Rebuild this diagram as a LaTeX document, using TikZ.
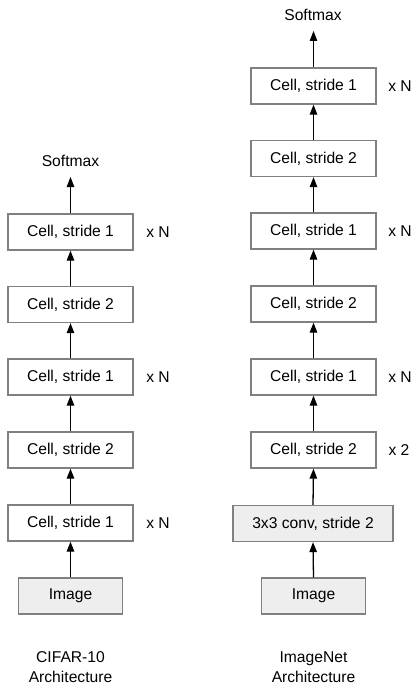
\documentclass[tikz,border=0pt]{standalone}
\usepackage{fontspec}
\setmainfont{Liberation Sans}
\usetikzlibrary{arrows.meta}
\definecolor{boxline}{HTML}{808080}
\definecolor{inputfill}{HTML}{EEEEEE}
\begin{document}
\begin{tikzpicture}[x=1bp,y=-1bp,
  font=\fontsize{15.7}{18.5}\selectfont,
  cellbox/.style={draw=boxline,line width=1.3bp,fill=white,minimum width=125bp,minimum height=36bp,inner sep=0pt},
  inbox/.style={cellbox,fill=inputfill,minimum width=160bp},
  imgbox/.style={cellbox,fill=inputfill,minimum width=104bp},
  flow/.style={draw=black,line width=1.3bp,-{Triangle[length=10bp,width=7.5bp]}},
  lbl/.style={inner sep=0pt},
  caption/.style={align=center,inner sep=0pt,font=\fontsize{15.7}{19.5}\selectfont}]
\useasboundingbox (0,0) rectangle (414,686);

% CIFAR-10 stack
\node[imgbox] (ci) at (70.5,596) {Image};
\node[cellbox] (c1) at (70.5,523) {Cell, stride 1};
\node[cellbox] (c2) at (70.5,450) {Cell, stride 2};
\node[cellbox] (c3) at (70.5,377) {Cell, stride 1};
\node[cellbox] (c4) at (70.5,304.5) {Cell, stride 2};
\node[cellbox] (c5) at (70.5,232) {Cell, stride 1};
\node[lbl] (cs) at (70.5,161) {Softmax};
\coordinate (csb) at (70.5,177);
\draw[flow] (ci.north) -- (c1.south);
\draw[flow] (c1.north) -- (c2.south);
\draw[flow] (c2.north) -- (c3.south);
\draw[flow] (c3.north) -- (c4.south);
\draw[flow] (c4.north) -- (c5.south);
\draw[flow] (c5.north) -- (csb);
\node[lbl] (cn1) at (158,523) {x N};
\node[lbl] (cn2) at (158,377) {x N};
\node[lbl] (cn3) at (158,232) {x N};
\node[caption] (ccap) at (70.5,667) {CIFAR-10\\Architecture};

% ImageNet stack
\node[imgbox] (ii) at (313.5,596) {Image};
\node[inbox] (i0) at (313,523.5) {3x3 conv, stride 2};
\node[cellbox] (i1) at (313.5,450) {Cell, stride 2};
\node[cellbox] (i2) at (313.5,377) {Cell, stride 1};
\node[cellbox] (i3) at (313.5,304) {Cell, stride 2};
\node[cellbox] (i4) at (313.5,231) {Cell, stride 1};
\node[cellbox] (i5) at (313.5,158.5) {Cell, stride 2};
\node[cellbox] (i6) at (313.5,86) {Cell, stride 1};
\node[lbl] (is) at (313,15) {Softmax};
\coordinate (isb) at (313.5,31);
\draw[flow] (ii.north) -- (i0.south);
\draw[flow] (i0.north) -- (i1.south);
\draw[flow] (i1.north) -- (i2.south);
\draw[flow] (i2.north) -- (i3.south);
\draw[flow] (i3.north) -- (i4.south);
\draw[flow] (i4.north) -- (i5.south);
\draw[flow] (i5.north) -- (i6.south);
\draw[flow] (i6.north) -- (isb);
\node[lbl] (in0) at (399,450) {x 2};
\node[lbl] (in1) at (400,377) {x N};
\node[lbl] (in2) at (400,231) {x N};
\node[lbl] (in3) at (400,86) {x N};
\node[caption] (icap) at (313.5,667) {ImageNet\\Architecture};
\end{tikzpicture}
\end{document}
